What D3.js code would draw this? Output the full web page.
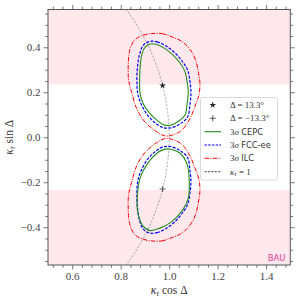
<!DOCTYPE html>
<html><head><meta charset="utf-8">
<script src="https://cdn.jsdelivr.net/npm/d3@7"></script>
<style>body{margin:0;background:#fff}svg{display:block}</style>
</head><body>
<svg id="c" width="300" height="300"></svg>
<script>
// ---- data ----
const xDomain = [0.5, 1.5];
const yDomain = [-0.568, 0.568];
const xTicks = [0.6, 0.8, 1.0, 1.2, 1.4];
const xTickLabels = ["0.6", "0.8", "1.0", "1.2", "1.4"];
const yTicks = [-0.4, -0.2, 0.0, 0.2, 0.4];
const yTickLabels = ["\u22120.4", "\u22120.2", "0.0", "0.2", "0.4"];
const xMinor = [0.52,0.56,0.64,0.68,0.72,0.76,0.84,0.88,0.92,0.96,1.04,1.08,1.12,1.16,1.24,1.28,1.32,1.36,1.44,1.48];
const yMinor = [-0.55,-0.5,-0.45,-0.35,-0.3,-0.25,-0.15,-0.1,-0.05,0.05,0.1,0.15,0.25,0.3,0.35,0.45,0.5,0.55];
const bauBands = [[0.235, 0.568], [-0.568, -0.235]];
const markerPlus = [0.973, 0.230];
const markerMinus = [0.973, -0.230];
const kappaOne = [[0.8216,0.57],[0.8352,0.55],[0.8660,0.5],[0.8930,0.45],[0.9165,0.4],[0.9367,0.35],[0.9539,0.3],[0.9682,0.25],[0.9798,0.2],[0.9887,0.15],[0.9950,0.1],[0.99875,0.05],[1.0,0.0],[0.99875,-0.05],[0.9950,-0.1],[0.9887,-0.15],[0.9798,-0.2],[0.9682,-0.25],[0.9539,-0.3],[0.9367,-0.35],[0.9165,-0.4],[0.8930,-0.45],[0.8660,-0.5],[0.8352,-0.55],[0.8216,-0.57]];

const cepcUp = [[0.921,0.415],[0.949,0.412],[0.983,0.394],[1.017,0.364],[1.045,0.330],[1.065,0.293],[1.075,0.241],[1.079,0.201],[1.075,0.157],[1.065,0.098],[1.038,0.071],[1.004,0.053],[0.976,0.056],[0.949,0.076],[0.921,0.105],[0.893,0.149],[0.880,0.194],[0.878,0.246],[0.880,0.308],[0.887,0.367],[0.900,0.400]];
const fccUp = [[0.921,0.426],[0.950,0.424],[0.987,0.406],[1.024,0.375],[1.053,0.339],[1.076,0.299],[1.086,0.246],[1.090,0.197],[1.086,0.148],[1.076,0.090],[1.045,0.059],[1.004,0.041],[0.971,0.044],[0.942,0.064],[0.913,0.095],[0.886,0.144],[0.871,0.192],[0.867,0.246],[0.869,0.308],[0.878,0.370],[0.894,0.410]];
const ilcUp = [[0.942,0.462],[0.970,0.461],[1.012,0.446],[1.052,0.427],[1.078,0.401],[1.100,0.367],[1.113,0.330],[1.120,0.293],[1.127,0.241],[1.123,0.188],[1.107,0.139],[1.086,0.083],[1.052,0.031],[1.011,0.009],[0.983,0.006],[0.949,0.024],[0.900,0.068],[0.866,0.127],[0.845,0.201],[0.834,0.246],[0.831,0.278],[0.834,0.367],[0.843,0.406],[0.859,0.434],[0.884,0.450],[0.913,0.459]];

const cepcDown = [[0.996,-0.052],[1.045,-0.071],[1.075,-0.123],[1.083,-0.197],[1.079,-0.271],[1.056,-0.323],[1.011,-0.375],[0.962,-0.404],[0.921,-0.415],[0.891,-0.393],[0.870,-0.331],[0.869,-0.256],[0.880,-0.182],[0.907,-0.123],[0.949,-0.071],[0.976,-0.055]];
const fccDown = [[0.921,-0.426],[0.950,-0.424],[0.987,-0.406],[1.024,-0.375],[1.053,-0.339],[1.076,-0.299],[1.086,-0.246],[1.090,-0.197],[1.086,-0.148],[1.076,-0.090],[1.045,-0.059],[1.004,-0.041],[0.971,-0.044],[0.942,-0.064],[0.913,-0.095],[0.886,-0.144],[0.871,-0.192],[0.867,-0.246],[0.869,-0.308],[0.878,-0.370],[0.894,-0.410]];
const ilcDown = [[0.942,-0.462],[0.970,-0.461],[1.012,-0.446],[1.052,-0.427],[1.078,-0.401],[1.100,-0.367],[1.113,-0.330],[1.120,-0.293],[1.127,-0.241],[1.123,-0.188],[1.107,-0.139],[1.086,-0.083],[1.052,-0.031],[1.011,-0.009],[0.983,-0.006],[0.949,-0.024],[0.900,-0.068],[0.866,-0.127],[0.845,-0.201],[0.834,-0.246],[0.831,-0.278],[0.834,-0.367],[0.843,-0.406],[0.859,-0.434],[0.884,-0.450],[0.913,-0.459]];

// ---- drawing ----
const svg = d3.select("#c");
const L = 48, R = 290.3, T = 9.5, B = 265;
const x = d3.scaleLinear(xDomain, [L, R]);
const y = d3.scaleLinear(yDomain, [B, T]);
const serif = "'Liberation Serif','DejaVu Serif',serif";
const sans = "'DejaVu Sans','Liberation Sans',sans-serif";

svg.append("defs").append("clipPath").attr("id","clip")
  .append("rect").attr("x",L).attr("y",T).attr("width",R-L).attr("height",B-T);
const plot = svg.append("g").attr("clip-path","url(#clip)");

plot.selectAll("rect.band").data(bauBands).join("rect")
  .attr("x", L).attr("width", R-L)
  .attr("y", d => y(d[1])).attr("height", d => y(d[0]) - y(d[1]))
  .attr("fill", "#ffe8ec");

const line = d3.line().x(d => x(d[0])).y(d => y(d[1]));
const closed = d3.line().x(d => x(d[0])).y(d => y(d[1])).curve(d3.curveCatmullRomClosed);

plot.append("path").datum(kappaOne).attr("d", line.curve(d3.curveNatural))
  .attr("fill","none").attr("stroke","#000").attr("stroke-opacity",0.45)
  .attr("stroke-width",0.7).attr("stroke-dasharray","2.2,1.4");

const styles = [
  {data: ilcUp, c: "#ff0000", w: 1.0, dash: "4.5,1.3,1,1.3"},
  {data: ilcDown, c: "#ff0000", w: 1.0, dash: "4.5,1.3,1,1.3"},
  {data: fccUp, c: "#0000ff", w: 1.2, dash: "3,1.4"},
  {data: fccDown, c: "#0000ff", w: 1.2, dash: "3,1.4"},
  {data: cepcUp, c: "#228b22", w: 1.1, dash: null},
  {data: cepcDown, c: "#228b22", w: 1.1, dash: null}
];
styles.forEach(s => {
  plot.append("path").datum(s.data).attr("d", closed)
    .attr("fill","none").attr("stroke",s.c).attr("stroke-width",s.w)
    .attr("stroke-dasharray", s.dash);
});

// markers
plot.append("path").attr("d", d3.symbol(d3.symbolStar, 14)())
  .attr("transform", `translate(${x(markerPlus[0])},${y(markerPlus[1])})`).attr("fill","#222");
plot.append("path").attr("d", "M-3,0H3M0,-3V3")
  .attr("transform", `translate(${x(markerMinus[0])},${y(markerMinus[1])})`)
  .attr("stroke","#333").attr("stroke-width",0.8);

// frame
svg.append("rect").attr("x",L).attr("y",T).attr("width",R-L).attr("height",B-T)
  .attr("fill","none").attr("stroke","#555").attr("stroke-width",1);

// axes (ticks outward on all sides)
const tickCol = "#555";
function styleAxis(g){ g.select(".domain").remove(); g.selectAll("line").attr("stroke",tickCol).attr("stroke-width",0.8); }
svg.append("g").attr("transform",`translate(0,${B})`)
  .call(d3.axisBottom(x).tickValues(xTicks).tickSize(4.5).tickPadding(3).tickFormat((d,i)=>xTickLabels[i]))
  .call(styleAxis)
  .call(g=>g.selectAll("text").attr("font-family",serif).attr("font-size",11).attr("fill","#444"));
svg.append("g").attr("transform",`translate(0,${B})`)
  .call(d3.axisBottom(x).tickValues(xMinor).tickSize(2.8).tickFormat("")).call(styleAxis);
svg.append("g").attr("transform",`translate(0,${T})`)
  .call(d3.axisTop(x).tickValues(xTicks).tickSize(4.5).tickFormat("")).call(styleAxis);
svg.append("g").attr("transform",`translate(0,${T})`)
  .call(d3.axisTop(x).tickValues(xMinor).tickSize(2.8).tickFormat("")).call(styleAxis);
svg.append("g").attr("transform",`translate(${L},0)`)
  .call(d3.axisLeft(y).tickValues(yTicks).tickSize(4.5).tickPadding(3).tickFormat((d,i)=>yTickLabels[i]))
  .call(styleAxis)
  .call(g=>g.selectAll("text").attr("font-family",serif).attr("font-size",11).attr("fill","#444"));
svg.append("g").attr("transform",`translate(${L},0)`)
  .call(d3.axisLeft(y).tickValues(yMinor).tickSize(2.8).tickFormat("")).call(styleAxis);
svg.append("g").attr("transform",`translate(${R},0)`)
  .call(d3.axisRight(y).tickValues(yTicks).tickSize(4.5).tickFormat("")).call(styleAxis);
svg.append("g").attr("transform",`translate(${R},0)`)
  .call(d3.axisRight(y).tickValues(yMinor).tickSize(2.8).tickFormat("")).call(styleAxis);

// axis labels
const xl = svg.append("text").attr("x",(L+R)/2).attr("y",294).attr("text-anchor","middle")
  .attr("font-family",serif).attr("font-size",11.5).attr("fill","#333");
xl.append("tspan").attr("font-style","italic").text("\u03ba");
xl.append("tspan").attr("font-style","italic").attr("font-size",8).attr("dy",2).text("\u03c4");
xl.append("tspan").attr("dy",-2).text(" cos \u0394");
const yl = svg.append("text").attr("transform",`translate(13,${(T+B)/2}) rotate(-90)`).attr("text-anchor","middle")
  .attr("font-family",serif).attr("font-size",11.5).attr("fill","#333");
yl.append("tspan").attr("font-style","italic").text("\u03ba");
yl.append("tspan").attr("font-style","italic").attr("font-size",8).attr("dy",2).text("\u03c4");
yl.append("tspan").attr("dy",-2).text(" sin \u0394");

// BAU
svg.append("text").attr("x",285.5).attr("y",260.5).attr("text-anchor","end")
  .attr("font-family",sans).attr("font-size",8.5).attr("fill","#e0409c").text("BAU");

// legend
const lg = svg.append("g");
lg.append("rect").attr("x",200.5).attr("y",97.5).attr("width",77).attr("height",82.5)
  .attr("rx",2).attr("fill","#fff").attr("fill-opacity",0.85).attr("stroke","#d0d0d0").attr("stroke-width",0.8);
const rowY = [105, 118.3, 131.7, 145, 158.3, 171.7];
const hx0 = 204.5, hx1 = 221;
lg.append("path").attr("d", d3.symbol(d3.symbolStar, 14)()).attr("transform",`translate(${(hx0+hx1)/2},${rowY[0]})`).attr("fill","#222");
lg.append("path").attr("d","M-3,0H3M0,-3V3").attr("transform",`translate(${(hx0+hx1)/2},${rowY[1]})`).attr("stroke","#333").attr("stroke-width",0.8);
const legLines = [
  {r:2, c:"#228b22", w:1.1, dash:null},
  {r:3, c:"#0000ff", w:1.1, dash:"2.5,1.2"},
  {r:4, c:"#ff0000", w:1.0, dash:"4.5,1.3,1,1.3"},
  {r:5, c:"#333", w:0.9, dash:"2.2,1.2"}
];
legLines.forEach(l => lg.append("line").attr("x1",hx0).attr("x2",hx1).attr("y1",rowY[l.r]).attr("y2",rowY[l.r])
  .attr("stroke",l.c).attr("stroke-width",l.w).attr("stroke-dasharray",l.dash));
const tx = 230;
function legText(r){ return lg.append("text").attr("x",tx).attr("y",rowY[r]+3).attr("font-family",serif).attr("font-size",9).attr("fill","#333"); }
legText(0).text("\u0394 = 13.3\u00b0");
legText(1).text("\u0394 = \u221213.3\u00b0");
["CEPC","FCC-ee","ILC"].forEach((n,i)=>{
  const t = legText(2+i);
  t.append("tspan").text("3");
  t.append("tspan").attr("font-style","italic").text("\u03c3 ");
  t.append("tspan").attr("font-family",sans).attr("font-size",8.3).text(n);
});
const k = legText(5);
k.append("tspan").attr("font-style","italic").text("\u03ba");
k.append("tspan").attr("font-style","italic").attr("font-size",6.5).attr("dy",1.5).text("\u03c4");
k.append("tspan").attr("dy",-1.5).text(" = 1");
</script>
</body></html>
